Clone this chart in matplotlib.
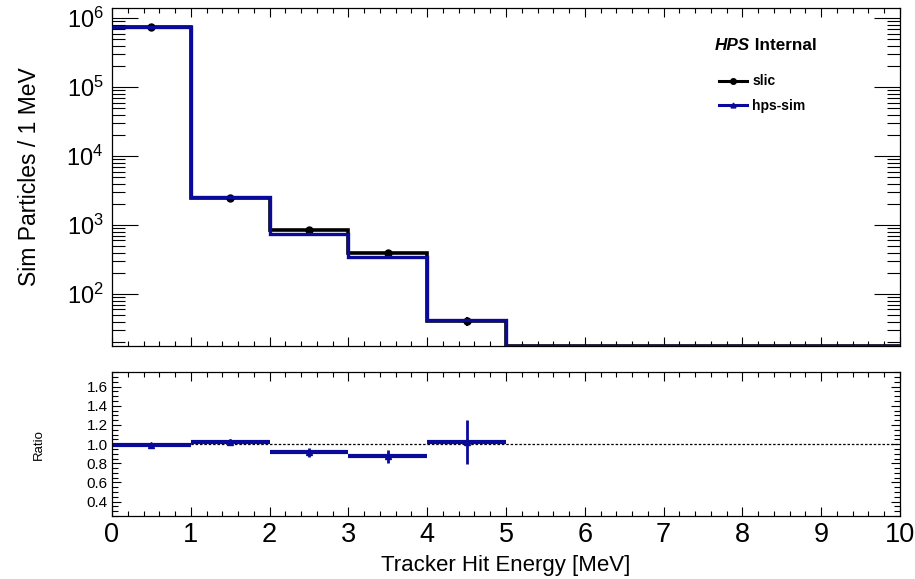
import numpy as np
import matplotlib
matplotlib.use("Agg")
import matplotlib.pyplot as plt
from matplotlib.ticker import MultipleLocator, LogLocator, NullFormatter, FixedLocator

plt.rcParams['font.family'] = ['Liberation Sans', 'DejaVu Sans']
plt.rcParams['mathtext.fontset'] = 'custom'
plt.rcParams['mathtext.rm'] = 'Liberation Sans'

# ---- data ----
bin_edges = [0, 1, 2, 3, 4, 5, 6, 7, 8, 9, 10]
slic_counts = [7.6e5, 2450, 846, 396, 41, 0, 0, 0, 0, 0]
slic_err = [870, 50, 29, 20, 6.4, 0, 0, 0, 0, 0]
hps_counts = [7.55e5, 2557, 757, 350, 42.3, 0, 0, 0, 0, 0]
ratio_vals = [0.99, 1.027, 0.913, 0.872, 1.027]
ratio_err = [0.005, 0.03, 0.05, 0.07, 0.23]
series_names = ["slic", "hps-sim"]
xticks = list(range(0, 11))
ratio_ticks = [0.4, 0.6, 0.8, 1.0, 1.2, 1.4, 1.6]

BLUE = "#0a0a9a"
YMIN, YMAX = 17.7, 1.41e6

edges = np.array(bin_edges, dtype=float)
centers = 0.5 * (edges[:-1] + edges[1:])
halfw = 0.5 * np.diff(edges)

fig = plt.figure(figsize=(9.15, 5.79), dpi=100)
ax = fig.add_axes([0.1224, 0.4024, 0.8612, 0.5838])
axr = fig.add_axes([0.1224, 0.1088, 0.8612, 0.2482])

# ---- main panel ----
slic = np.maximum(np.array(slic_counts), YMIN * 0.999)
hps = np.maximum(np.array(hps_counts), YMIN * 0.999)
ax.stairs(slic, edges, color="black", lw=2.6, baseline=None, zorder=2)
nz = np.array(slic_counts) > 0
ax.errorbar(centers[nz], np.array(slic_counts)[nz], yerr=np.array(slic_err)[nz],
            fmt="o", color="black", ms=5, elinewidth=1.5, capsize=0, zorder=3)
ax.stairs(hps, edges, color=BLUE, lw=2.4, baseline=None, zorder=4)

ax.set_yscale("log")
ax.set_xlim(edges[0], edges[-1])
ax.set_ylim(YMIN, YMAX)
ax.xaxis.set_major_locator(FixedLocator(xticks))
ax.xaxis.set_minor_locator(MultipleLocator(0.2))
ax.yaxis.set_major_locator(LogLocator(base=10, numticks=10))
ax.yaxis.set_minor_locator(LogLocator(base=10, subs=np.arange(2, 10), numticks=20))
ax.yaxis.set_minor_formatter(NullFormatter())
ax.tick_params(axis="both", which="both", direction="in", top=True, right=True)
ax.tick_params(axis="x", which="major", length=6.5, width=0.8, labelbottom=False)
ax.tick_params(axis="x", which="minor", length=3.6, width=0.8)
ax.tick_params(axis="y", which="major", length=19, width=0.8, labelsize=17, pad=6)
ax.tick_params(axis="y", which="minor", length=9.5, width=0.8)
ax.set_ylabel("Sim Particles / 1 MeV", fontsize=16.5, labelpad=18)
for s in ax.spines.values():
    s.set_linewidth(0.9)

t_hps = ax.text(0.765, 0.8905, "HPS", transform=ax.transAxes,
                fontsize=12.3, fontweight="bold", fontstyle="italic",
                ha="left", va="center")
ax.annotate(" Internal", xy=(1, 0.5), xycoords=t_hps, fontsize=12.3,
            fontweight="bold", ha="left", va="center")
leg_handles = [
    plt.Line2D([], [], color="black", lw=2.2, marker="o", ms=4),
    plt.Line2D([], [], color=BLUE, lw=2.2, marker="^", ms=3.5),
]
leg = ax.legend(leg_handles, series_names, loc="upper left",
                bbox_to_anchor=(0.763, 0.82), frameon=False,
                prop={"weight": "bold", "size": 10}, handlelength=2.0,
                handletextpad=0.4, labelspacing=0.75, borderaxespad=0)

# ---- ratio panel ----
ncomp = len(ratio_vals)
axr.axhline(1.0, color="black", lw=0.9, ls=(0, (2, 1.5)), zorder=1)
axr.errorbar(centers[:ncomp], ratio_vals, xerr=halfw[:ncomp], fmt="none",
             ecolor=BLUE, elinewidth=3, capsize=0, zorder=2)
axr.errorbar(centers[:ncomp], ratio_vals, yerr=ratio_err, fmt="^",
             color=BLUE, ms=5, elinewidth=2, capsize=0, zorder=3)
axr.set_xlim(edges[0], edges[-1])
axr.set_ylim(0.25, 1.75)
axr.xaxis.set_major_locator(FixedLocator(xticks))
axr.xaxis.set_minor_locator(MultipleLocator(0.2))
axr.yaxis.set_major_locator(FixedLocator(ratio_ticks))
axr.yaxis.set_minor_locator(MultipleLocator(0.05))
axr.tick_params(axis="both", which="both", direction="in", top=True, right=True)
axr.tick_params(axis="x", which="major", length=6.5, width=0.8, labelsize=19.5, pad=4)
axr.tick_params(axis="x", which="minor", length=3.6, width=0.8)
axr.tick_params(axis="y", which="major", length=6.5, width=0.8, labelsize=11, pad=3)
axr.tick_params(axis="y", which="minor", length=4, width=0.8)
axr.yaxis.set_major_formatter(matplotlib.ticker.FormatStrFormatter("%.1f"))
axr.set_xlabel("Tracker Hit Energy [MeV]", fontsize=16, labelpad=5)
axr.set_ylabel("Ratio", fontsize=9.5, labelpad=30)
for s in axr.spines.values():
    s.set_linewidth(0.9)

fig.savefig("out.png", dpi=100)
